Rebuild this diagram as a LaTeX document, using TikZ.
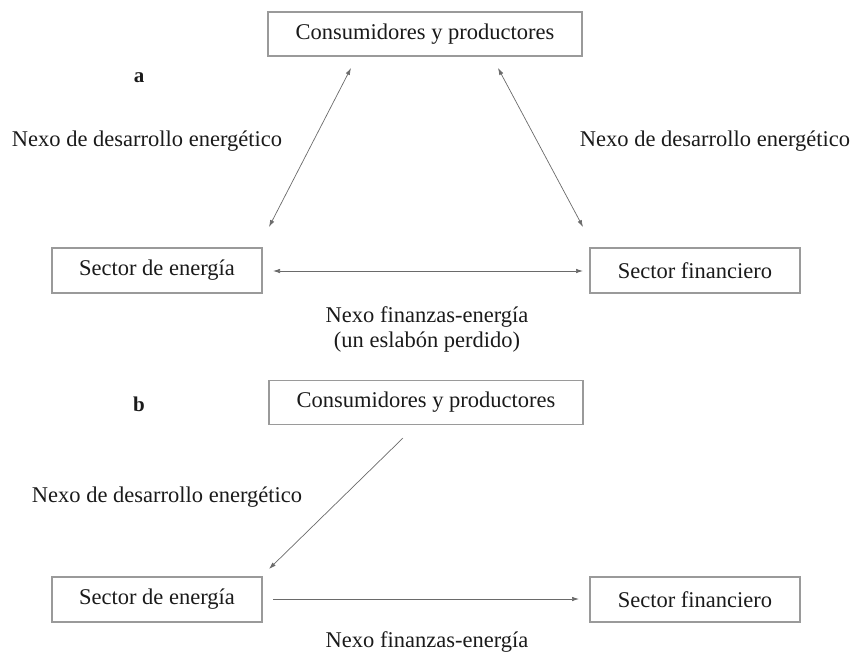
\documentclass[tikz,border=0pt]{standalone}
\usepackage{fontspec}
\setmainfont{Liberation Serif}
\usetikzlibrary{arrows.meta}
\definecolor{boxgray}{HTML}{9A9A9A}
\definecolor{linegray}{HTML}{6A6A6A}
\definecolor{txt}{HTML}{1A1A1A}
\begin{document}
\begin{tikzpicture}[x=1pt,y=-1pt,
  every node/.style={text=txt,font=\fontsize{22.5}{25}\selectfont},
  widebox/.style={draw=boxgray,line width=1.1pt,minimum width=314pt,minimum height=44pt,inner sep=0pt},
  smallbox/.style={draw=boxgray,line width=1.1pt,minimum width=210pt,minimum height=45pt,inner sep=0pt},
  lbl/.style={inner sep=0pt,align=center},
  conn/.style={draw=linegray,line width=0.7pt,-{Latex[length=7pt,width=4.5pt]}},
  biconn/.style={draw=linegray,line width=0.7pt,{Latex[length=7pt,width=4.5pt]}-{Latex[length=7pt,width=4.5pt]}}
]
\useasboundingbox (0,0) rectangle (854,655);
% ---- panel a ----
\node[widebox] (ca) at (425,34) {Consumidores y productores};
\node[smallbox] (ea) at (157,270.5) {Sector de energía};
\node[smallbox] (fa) at (695,270.5) {Sector financiero};
\node[lbl,font=\fontsize{21}{25}\selectfont\bfseries] (la) at (139,78) {a};
\node[lbl] (nla) at (147,141) {Nexo de desarrollo energético};
\node[lbl] (nra) at (715,141) {Nexo de desarrollo energético};
\node[lbl] (nfa) at (427,329) {Nexo finanzas-energía\\(un eslabón perdido)};
\coordinate (a1) at (351,68);
\coordinate (a2) at (269,227);
\coordinate (a3) at (498,68);
\coordinate (a4) at (583,227);
\coordinate (a5) at (273,271);
\coordinate (a6) at (583,271);
\draw[biconn] (a1) -- (a2);
\draw[biconn] (a3) -- (a4);
\draw[biconn] (a5) -- (a6);
% ---- panel b ----
\node[widebox] (cb) at (426,402.5) {Consumidores y productores};
\node[smallbox] (eb) at (157,599.5) {Sector de energía};
\node[smallbox] (fb) at (695,599.5) {Sector financiero};
\node[lbl,font=\fontsize{21}{25}\selectfont\bfseries] (lb) at (139,404) {b};
\node[lbl] (nlb) at (167,497) {Nexo de desarrollo energético};
\node[lbl] (nfb) at (427,642) {Nexo finanzas-energía};
\coordinate (b1) at (403,438);
\coordinate (b2) at (269,569);
\coordinate (b3) at (273,599);
\coordinate (b4) at (579,599);
\draw[conn] (b1) -- (b2);
\draw[conn] (b3) -- (b4);
\end{tikzpicture}
\end{document}
